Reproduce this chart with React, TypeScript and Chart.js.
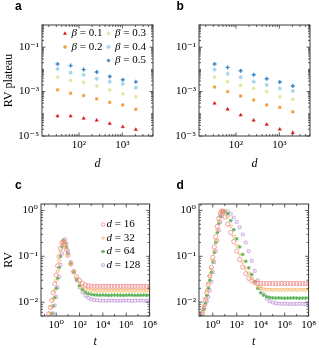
import React, { useEffect, useRef } from 'react';
import { Chart, registerables } from 'chart.js';
import { drawPoint } from 'chart.js/helpers';

Chart.register(...registerables);

// ---------------- data ----------------
const DIMENSIONS = [32, 64, 128, 256, 512, 1024, 2048];
const BETA_LABELS = ['β = 0.1', 'β = 0.2', 'β = 0.3', 'β = 0.4', 'β = 0.5'];

// panel a : RV plateau vs d
const A_B01 = [7.9e-5, 7.9e-5, 6.2e-5, 5.1e-5, 3.6e-5, 2.6e-5, 1.95e-5];
const A_B02 = [1.2e-3, 8.5e-4, 6.6e-4, 4.7e-4, 3.3e-4, 2.5e-4, 1.6e-4];
const A_B03 = [4.5e-3, 3.2e-3, 2.6e-3, 1.8e-3, 1.2e-3, 7.9e-4, 5.9e-4];
const A_B04 = [1.05e-2, 7.2e-3, 5.7e-3, 3.8e-3, 2.8e-3, 2.2e-3, 1.5e-3];
const A_B05 = [1.76e-2, 1.48e-2, 9.8e-3, 7.6e-3, 4.8e-3, 3.4e-3, 2.75e-3];

// panel b
const B_B01 = [2.95e-4, 1.6e-4, 8.7e-5, 5.1e-5, 3.3e-5, 2.0e-5, 1.4e-5];
const B_B02 = [1.6e-3, 1.0e-3, 6.3e-4, 4.2e-4, 2.5e-4, 1.95e-4, 1.23e-4];
const B_B03 = [4.4e-3, 2.8e-3, 1.9e-3, 1.4e-3, 1.0e-3, 5.9e-4, 4.5e-4];
const B_B04 = [9.8e-3, 6.3e-3, 4.4e-3, 2.8e-3, 2.0e-3, 1.4e-3, 1.07e-3];
const B_B05 = [1.76e-2, 1.23e-2, 8.7e-3, 5.7e-3, 3.8e-3, 2.7e-3, 1.8e-3];

// panels c, d : RV vs t
const T_VALUES = [
  0.1, 0.1334, 0.1778, 0.2371, 0.3162, 0.4217, 0.5623, 0.7499, 1, 1.334, 1.778, 2.371, 3.162, 4.217, 5.623, 7.499, 10,
  17.78, 31.62, 56.23, 100, 177.8, 316.2, 562.3, 1e3, 1778, 3162, 5623, 1e4,
  17783, 31623, 56234, 1e5, 177828, 316228, 562341, 1e6, 1778279, 3162278, 5623413, 1e7,
  17782794, 31622777, 56234133, 1e8,
];
const D_LABELS = ['d = 16', 'd = 32', 'd = 64', 'd = 128'];

const C_D16 = [
  0.0022, 0.003, 0.0041, 0.0056, 0.0077, 0.011, 0.016, 0.025, 0.039, 0.062, 0.098, 0.15, 0.2, 0.215, 0.18, 0.14, 0.105,
  0.068, 0.047, 0.036, 0.03, 0.026, 0.0238, 0.0228, 0.0224,
  0.0222, 0.0221, 0.0222, 0.0221, 0.022, 0.0221, 0.0222, 0.0221, 0.0221, 0.022, 0.0221, 0.0222, 0.0221, 0.022, 0.0221, 0.0221, 0.0222, 0.0221, 0.022, 0.0221,
];
const C_D32 = [
  0.0015, 0.0021, 0.0029, 0.004, 0.0056, 0.0079, 0.0115, 0.018, 0.029, 0.047, 0.078, 0.125, 0.18, 0.215, 0.19, 0.15, 0.11,
  0.068, 0.045, 0.033, 0.026, 0.0215, 0.0195, 0.0186, 0.0181,
  0.0179, 0.0178, 0.0179, 0.0178, 0.0177, 0.0178, 0.0179, 0.0178, 0.0178, 0.0177, 0.0178, 0.0179, 0.0178, 0.0177, 0.0178, 0.0178, 0.0179, 0.0178, 0.0177, 0.0178,
];
const C_D64 = [
  0.001, 0.0014, 0.002, 0.0028, 0.004, 0.0057, 0.0083, 0.0125, 0.02, 0.033, 0.057, 0.1, 0.16, 0.225, 0.2, 0.16, 0.115,
  0.07, 0.045, 0.031, 0.023, 0.019, 0.0165, 0.0153, 0.0147,
  0.0144, 0.0143, 0.0142, 0.0143, 0.0142, 0.0141, 0.0142, 0.0143, 0.0142, 0.0142, 0.0141, 0.0142, 0.0143, 0.0142, 0.0141, 0.0142, 0.0142, 0.0143, 0.0142, 0.0141,
];
const C_D128 = [
  0.0007, 0.001, 0.0014, 0.002, 0.0028, 0.004, 0.0057, 0.0085, 0.013, 0.021, 0.036, 0.065, 0.115, 0.19, 0.235, 0.19, 0.13,
  0.075, 0.045, 0.03, 0.021, 0.0165, 0.0138, 0.0124, 0.0116,
  0.0112, 0.011, 0.0109, 0.0108, 0.0107, 0.0108, 0.0109, 0.0108, 0.0107, 0.0108, 0.0108, 0.0109, 0.0108, 0.0107, 0.0108, 0.0108, 0.0109, 0.0108, 0.0107, 0.0108,
];

const D_D16 = [
  0.004, 0.0055, 0.0075, 0.011, 0.016, 0.024, 0.037, 0.058, 0.095, 0.16, 0.27, 0.45, 0.68, 0.88, 0.97, 0.93, 0.72,
  0.5, 0.33, 0.21, 0.13, 0.085, 0.058, 0.042, 0.033, 0.029, 0.027, 0.026, 0.0257,
  0.0256, 0.0255, 0.0256, 0.0255, 0.0254, 0.0255, 0.0256, 0.0255, 0.0255, 0.0254, 0.0255, 0.0256, 0.0255, 0.0255, 0.0254, 0.0255,
];
const D_D32 = [
  0.0045, 0.006, 0.0085, 0.012, 0.018, 0.026, 0.036, 0.052, 0.08, 0.13, 0.22, 0.37, 0.58, 0.8, 0.95, 1.0, 0.95,
  0.72, 0.45, 0.27, 0.17, 0.11, 0.075, 0.055, 0.043, 0.033, 0.026, 0.022, 0.0202,
  0.0193, 0.0189, 0.0187, 0.0186, 0.0187, 0.0186, 0.0185, 0.0186, 0.0187, 0.0186, 0.0186, 0.0185, 0.0186, 0.0187, 0.0186, 0.0186,
];
const D_D64 = [
  0.0035, 0.005, 0.007, 0.0095, 0.014, 0.02, 0.03, 0.045, 0.075, 0.12, 0.2, 0.33, 0.52, 0.74, 0.9, 0.97, 0.98,
  0.85, 0.6, 0.38, 0.24, 0.16, 0.11, 0.078, 0.056, 0.04, 0.028, 0.02, 0.016,
  0.0142, 0.0132, 0.0127, 0.0124, 0.0123, 0.0124, 0.0123, 0.0122, 0.0123, 0.0123, 0.0124, 0.0123, 0.0122, 0.0123, 0.0123, 0.0124,
];
const D_D128 = [
  0.0052, 0.0062, 0.0075, 0.0088, 0.0105, 0.013, 0.018, 0.028, 0.045, 0.075, 0.13, 0.22, 0.37, 0.56, 0.75, 0.88, 0.94,
  0.95, 0.85, 0.7, 0.56, 0.43, 0.3, 0.2, 0.13, 0.08, 0.048, 0.03, 0.02,
  0.015, 0.012, 0.0105, 0.0098, 0.0095, 0.0093, 0.0092, 0.0093, 0.0092, 0.0091, 0.0092, 0.0092, 0.0093, 0.0092, 0.0091, 0.0092,
];

// tick values
const TICKS_AB_X = [1e2, 1e3];
const TICKS_AB_Y = [1e-5, 1e-3, 1e-1];
const TICKS_CD_X = [1e0, 1e2, 1e4, 1e6, 1e8];
const TICKS_CD_Y = [1e-2, 1e-1, 1e0];

// ---------------- styles ----------------
const SERIF = '"Liberation Serif", "DejaVu Serif", serif';
const BETA_STYLES = [
  { pointStyle: 'triangle', color: '#d7191c', fill: true, radius: 1.9, bw: 0.5 },
  { pointStyle: 'rect', color: '#f39b35', fill: true, radius: 1.7, bw: 0.5 },
  { pointStyle: 'star', color: '#e2e59a', fill: false, radius: 1.9, bw: 1.0 },
  { pointStyle: 'circle', color: '#a6d6ec', fill: true, radius: 1.7, bw: 0.5 },
  { pointStyle: 'cross', color: '#3f87c8', fill: false, radius: 2.0, bw: 1.4 },
];
const D_STYLES = [
  { pointStyle: 'circle', color: '#f08a8a', fill: false, radius: 2.1, bw: 0.8, rotation: 0 },
  { pointStyle: 'triangle', color: '#f5b867', fill: false, radius: 2.1, bw: 0.8, rotation: 180 },
  { pointStyle: 'star', color: '#58b155', fill: false, radius: 1.8, bw: 1.0, rotation: 0 },
  { pointStyle: 'rect', color: '#c49bdc', fill: false, radius: 1.9, bw: 0.8, rotation: 0 },
];

const SUP: Record<string, string> = {
  '-': '⁻', '0': '⁰', '1': '¹', '2': '²', '3': '³', '4': '⁴', '5': '⁵', '6': '⁶', '7': '⁷', '8': '⁸', '9': '⁹',
};
const fmtPow = (v: number) => {
  const e = Math.round(Math.log10(v));
  return '10' + String(e).split('').map((c) => SUP[c] || c).join('');
};

function minorTicks(min: number, max: number, majors: number[], subs: boolean) {
  const out: number[] = [];
  for (let e = Math.floor(Math.log10(min)); e <= Math.ceil(Math.log10(max)); e++) {
    const base = Math.pow(10, e);
    if (!majors.some((m) => Math.abs(Math.log10(m) - e) < 1e-6)) out.push(base);
    if (subs) for (let m = 2; m <= 9; m++) out.push(m * base);
  }
  return out.filter((v) => v >= min && v <= max);
}

// frame + inward ticks + panel letter
const framePlugin = {
  id: 'frame',
  afterDatasetsDraw(chart: any, _a: any, opts: any) {
    const { ctx, chartArea: ca } = chart;
    const xs = chart.scales.x;
    const ys = chart.scales.y;
    ctx.save();
    ctx.strokeStyle = '#333';
    ctx.lineWidth = 0.8;
    const seg = (x1: number, y1: number, x2: number, y2: number) => {
      ctx.beginPath();
      ctx.moveTo(x1, y1);
      ctx.lineTo(x2, y2);
      ctx.stroke();
    };
    const xt = (v: number, len: number) => {
      const p = xs.getPixelForValue(v);
      if (p < ca.left - 0.5 || p > ca.right + 0.5) return;
      seg(p, ca.bottom, p, ca.bottom - len);
      seg(p, ca.top, p, ca.top + len);
    };
    const yt = (v: number, len: number) => {
      const p = ys.getPixelForValue(v);
      if (p < ca.top - 0.5 || p > ca.bottom + 0.5) return;
      seg(ca.left, p, ca.left + len, p);
      seg(ca.right, p, ca.right - len, p);
    };
    opts.xMajor.forEach((v: number) => xt(v, 3.5));
    opts.yMajor.forEach((v: number) => yt(v, 3.5));
    minorTicks(xs.min, xs.max, opts.xMajor, opts.xSubs).forEach((v) => xt(v, 2));
    minorTicks(ys.min, ys.max, opts.yMajor, opts.ySubs).forEach((v) => yt(v, 2));
    ctx.lineWidth = 1;
    ctx.strokeStyle = '#3a3a3a';
    ctx.strokeRect(ca.left, ca.top, ca.right - ca.left, ca.bottom - ca.top);
    // panel letter
    ctx.fillStyle = '#000';
    ctx.font = 'bold 12px "Liberation Sans", Arial, sans-serif';
    ctx.textBaseline = 'alphabetic';
    ctx.textAlign = 'left';
    ctx.fillText(opts.letter, opts.letterX, opts.letterY);
    ctx.restore();
  },
};

// legend drawn inside the plot area
const insideLegendPlugin = {
  id: 'insideLegend',
  afterDatasetsDraw(chart: any, _a: any, opts: any) {
    if (!opts || !opts.items) return;
    const { ctx } = chart;
    ctx.save();
    opts.items.forEach((it: any) => {
      const ds = chart.data.datasets[it.index];
      const cx = opts.colX[it.col];
      const cy = opts.rowY[it.row];
      ctx.strokeStyle = ds.borderColor;
      ctx.fillStyle = ds.backgroundColor;
      ctx.lineWidth = ds.borderWidth;
      drawPoint(ctx, {
        pointStyle: ds.pointStyle,
        radius: opts.markerRadius,
        rotation: ds.rotation || 0,
        borderWidth: ds.borderWidth,
      } as any, cx, cy);
      const label: string = ds.label;
      const sym = label.charAt(0);
      const rest = label.slice(1);
      ctx.fillStyle = '#000';
      ctx.textBaseline = 'middle';
      ctx.textAlign = 'left';
      const tx = cx + opts.gap;
      ctx.font = `italic ${opts.fontSize}px ${SERIF}`;
      ctx.fillText(sym, tx, cy);
      const w = ctx.measureText(sym).width;
      ctx.font = `${opts.fontSize}px ${SERIF}`;
      ctx.fillText(rest, tx + w, cy);
    });
    ctx.restore();
  },
};

function makeDatasets(labels: string[], xs: number[], series: number[][], styles: any[]) {
  return series.map((s, i) => {
    const st = styles[i];
    return {
      label: labels[i],
      data: xs.map((x, j) => ({ x, y: s[j] })),
      pointStyle: st.pointStyle,
      rotation: st.rotation || 0,
      pointRadius: st.radius,
      borderColor: st.color,
      backgroundColor: st.fill ? st.color : 'rgba(0,0,0,0)',
      borderWidth: st.bw,
      showLine: false,
    };
  });
}

interface Spec {
  letter: string; letterX: number; letterY: number;
  padTop: number; padRight: number; yWidth: number; xHeight: number;
  xMin: number; xMax: number; yMin: number; yMax: number;
  xTicks: number[]; yTicks: number[]; xSubs: boolean; ySubs: boolean;
  xTitle: string; xTitlePad: number; yTitle?: string; yTitlePad?: number;
  datasets: any[]; legend?: any;
}

function buildConfig(s: Spec): any {
  return {
    type: 'scatter',
    data: { datasets: s.datasets },
    plugins: [framePlugin, insideLegendPlugin],
    options: {
      responsive: false,
      animation: false,
      devicePixelRatio: 1,
      events: [],
      layout: { padding: { top: s.padTop, right: s.padRight, left: 0, bottom: 0 } },
      plugins: {
        legend: { display: false },
        tooltip: { enabled: false },
        frame: {
          letter: s.letter, letterX: s.letterX, letterY: s.letterY,
          xMajor: s.xTicks, yMajor: s.yTicks, xSubs: s.xSubs, ySubs: s.ySubs,
        },
        insideLegend: s.legend || {},
      },
      scales: {
        x: {
          type: 'logarithmic',
          min: s.xMin,
          max: s.xMax,
          afterFit: (sc: any) => { sc.height = s.xHeight; },
          afterBuildTicks: (sc: any) => { sc.ticks = s.xTicks.map((v) => ({ value: v })); },
          ticks: {
            callback: (v: any) => fmtPow(Number(v)),
            font: { family: SERIF, size: 11 },
            color: '#000',
            padding: 3,
            maxRotation: 0,
            autoSkip: false,
          },
          grid: { display: false, drawTicks: false },
          border: { display: false },
          title: {
            display: true,
            text: s.xTitle,
            color: '#000',
            font: { family: SERIF, size: 12, style: 'italic', lineHeight: 1 },
            padding: { top: 0, bottom: s.xTitlePad },
          },
        },
        y: {
          type: 'logarithmic',
          min: s.yMin,
          max: s.yMax,
          afterFit: (sc: any) => { sc.width = s.yWidth; },
          afterBuildTicks: (sc: any) => { sc.ticks = s.yTicks.map((v) => ({ value: v })); },
          ticks: {
            callback: (v: any) => fmtPow(Number(v)),
            font: { family: SERIF, size: 11 },
            color: '#000',
            padding: 3,
            autoSkip: false,
          },
          grid: { display: false, drawTicks: false },
          border: { display: false },
          title: {
            display: !!s.yTitle,
            text: s.yTitle || '',
            color: '#000',
            font: { family: SERIF, size: 12, lineHeight: 1 },
            padding: { top: s.yTitlePad || 0, bottom: 0 },
          },
        },
      },
    },
  };
}

function Panel(props: { left: number; top: number; width: number; height: number; spec: Spec }) {
  const ref = useRef<HTMLCanvasElement>(null);
  useEffect(() => {
    const chart = new Chart(ref.current as HTMLCanvasElement, buildConfig(props.spec));
    return () => chart.destroy();
  }, []);
  return (
    <canvas
      ref={ref}
      width={props.width}
      height={props.height}
      style={{ position: 'absolute', left: props.left, top: props.top, width: props.width, height: props.height }}
    />
  );
}

const betaLegend = {
  colX: [65, 108.5],
  rowY: [33.5, 47, 60.5],
  gap: 6.5,
  markerRadius: 1.8,
  fontSize: 11,
  items: [
    { index: 0, col: 0, row: 0 },
    { index: 1, col: 0, row: 1 },
    { index: 2, col: 1, row: 0 },
    { index: 3, col: 1, row: 1 },
    { index: 4, col: 1, row: 2 },
  ],
};

const dLegend = {
  colX: [103],
  rowY: [49.5, 63, 76.5, 90],
  gap: 3.5,
  markerRadius: 1.8,
  fontSize: 11,
  items: [
    { index: 0, col: 0, row: 0 },
    { index: 1, col: 0, row: 1 },
    { index: 2, col: 0, row: 2 },
    { index: 3, col: 0, row: 3 },
  ],
};

const specA: Spec = {
  letter: 'a', letterX: 15, letterY: 10,
  padTop: 25, padRight: 7, yWidth: 42, xHeight: 39,
  xMin: 14, xMax: 5100, yMin: 1e-5, yMax: 1,
  xTicks: TICKS_AB_X, yTicks: TICKS_AB_Y, xSubs: true, ySubs: true,
  xTitle: 'd', xTitlePad: 5, yTitle: 'RV plateau', yTitlePad: 3,
  datasets: makeDatasets(BETA_LABELS, DIMENSIONS, [A_B01, A_B02, A_B03, A_B04, A_B05], BETA_STYLES),
  legend: betaLegend,
};
const specB: Spec = {
  letter: 'b', letterX: 16.5, letterY: 10,
  padTop: 25, padRight: 9, yWidth: 39, xHeight: 39,
  xMin: 14, xMax: 5100, yMin: 1e-5, yMax: 1,
  xTicks: TICKS_AB_X, yTicks: TICKS_AB_Y, xSubs: true, ySubs: true,
  xTitle: 'd', xTitlePad: 5,
  datasets: makeDatasets(BETA_LABELS, DIMENSIONS, [B_B01, B_B02, B_B03, B_B04, B_B05], BETA_STYLES),
};
const specC: Spec = {
  letter: 'c', letterX: 15, letterY: 13.5,
  padTop: 29, padRight: 7, yWidth: 41, xHeight: 32,
  xMin: 0.05, xMax: 1e8, yMin: 0.005, yMax: 1.38,
  xTicks: TICKS_CD_X, yTicks: TICKS_CD_Y, xSubs: false, ySubs: true,
  xTitle: 't', xTitlePad: 0, yTitle: 'RV', yTitlePad: 3,
  datasets: makeDatasets(D_LABELS, T_VALUES, [C_D16, C_D32, C_D64, C_D128], D_STYLES),
  legend: dLegend,
};
const specD: Spec = {
  letter: 'd', letterX: 16.5, letterY: 13.5,
  padTop: 29, padRight: 9, yWidth: 39, xHeight: 32,
  xMin: 0.07, xMax: 1e8, yMin: 0.005, yMax: 1.38,
  xTicks: TICKS_CD_X, yTicks: TICKS_CD_Y, xSubs: false, ySubs: true,
  xTitle: 't', xTitlePad: 0,
  datasets: makeDatasets(D_LABELS, T_VALUES, [D_D16, D_D32, D_D64, D_D128], D_STYLES),
};

export default function App() {
  return (
    <div style={{ position: 'absolute', left: 0, top: 0, width: 319, height: 348, background: '#fff', overflow: 'hidden' }}>
      <Panel left={0} top={0} width={160} height={175} spec={specA} />
      <Panel left={160} top={0} width={159} height={175} spec={specB} />
      <Panel left={0} top={175} width={160} height={173} spec={specC} />
      <Panel left={160} top={175} width={159} height={173} spec={specD} />
    </div>
  );
}
